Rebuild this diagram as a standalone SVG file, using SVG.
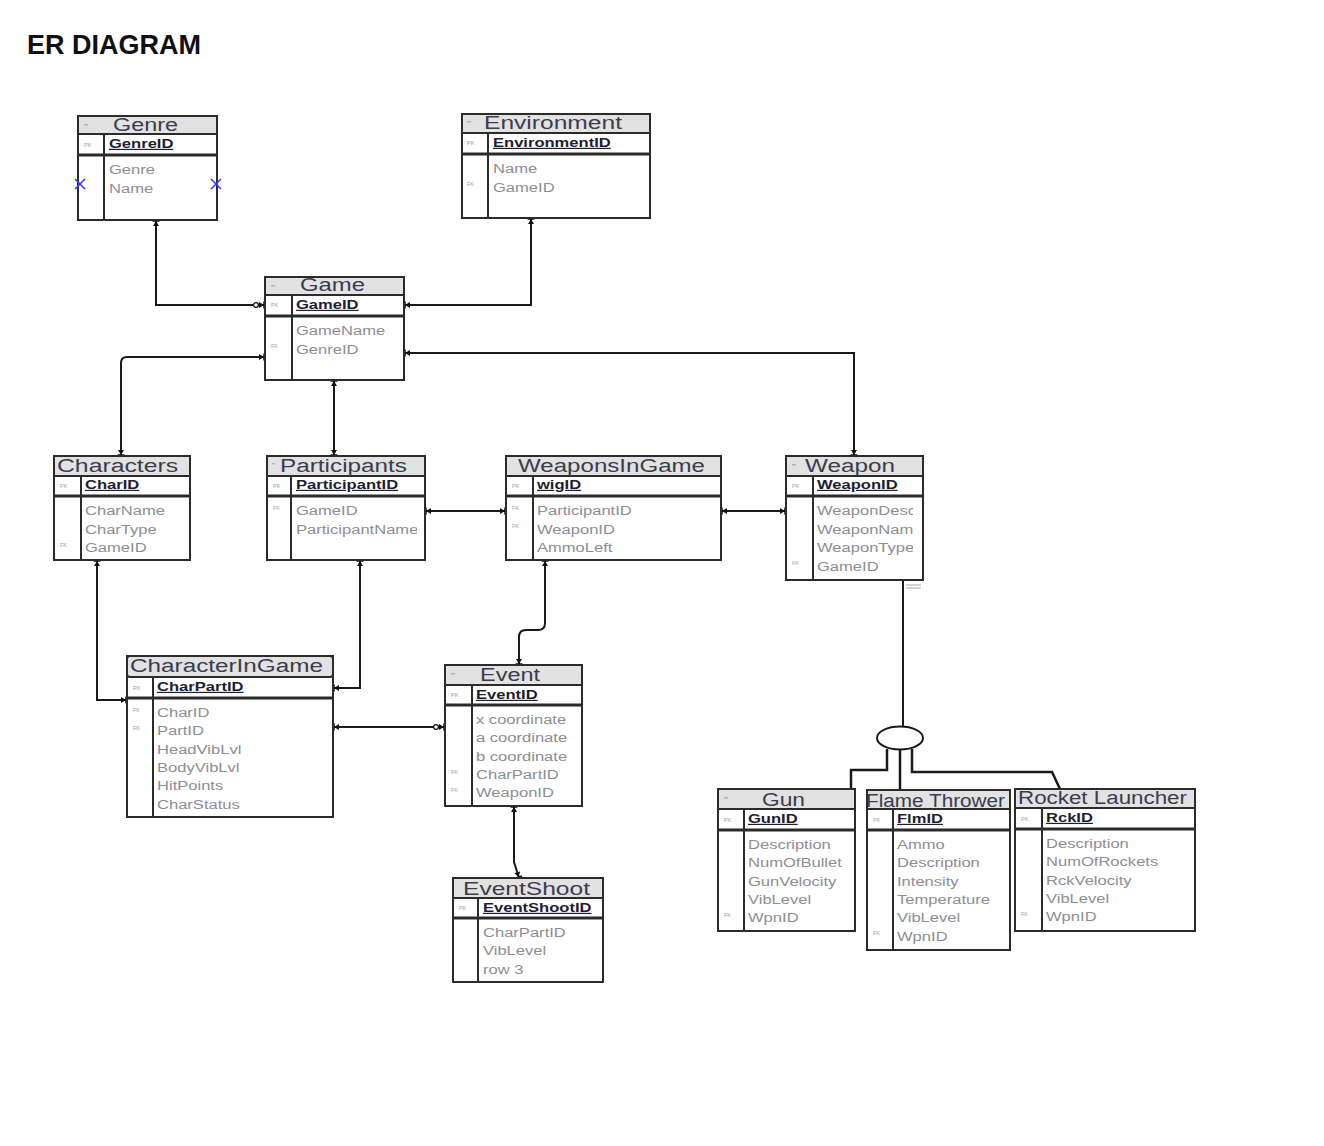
<svg xmlns="http://www.w3.org/2000/svg" width="1324" height="1146" viewBox="0 0 1324 1146">
  <style>
    .box { fill: #ffffff; stroke: #2b2b2b; stroke-width: 2; }
    .hd { fill: #e2e2e2; stroke: #2b2b2b; stroke-width: 2; }
    .ln { stroke: #2b2b2b; stroke-width: 2; }
    .dl { stroke: #2b2b2b; stroke-width: 3; }
    .tk { fill: #b4b4b4; }
    .ht { font-family: "Liberation Sans", Arial, sans-serif; font-size: 18px; fill: #3c3c4e; }
    .pk { font-family: "Liberation Sans", Arial, sans-serif; font-size: 12px; font-weight: bold; fill: #1e1e30; text-decoration: underline; }
    .at { font-family: "Liberation Sans", Arial, sans-serif; font-size: 12px; fill: #8e8e92; }
    .mk { font-family: "Liberation Sans", Arial, sans-serif; font-size: 5.5px; fill: #a0a0a0; }
    .cn { fill: none; stroke: #1a1a1a; stroke-width: 2; }
    .sub { fill: none; stroke: #1a1a1a; stroke-width: 2.5; }
    .xm { stroke: #3a3aff; stroke-width: 1.6; }
    .title { font-family: "Liberation Sans", Arial, sans-serif; font-size: 28px; font-weight: bold; fill: #111111; }
  </style>
  <defs>
    <marker id="tip" markerUnits="userSpaceOnUse" markerWidth="10" markerHeight="10" viewBox="-8 -5 10 10" refX="0" refY="0" orient="auto-start-reverse">
      <path d="M-6,-3 L-1,0 L-6,3 Z" fill="#111"/>
      <path d="M-1,-3.5 V3.5" stroke="#111" stroke-width="1.5"/>
    </marker>
    <marker id="tipo" markerUnits="userSpaceOnUse" markerWidth="16" markerHeight="10" viewBox="-14 -5 16 10" refX="0" refY="0" orient="auto-start-reverse">
      <circle cx="-9" cy="0" r="2.4" fill="#fff" stroke="#111" stroke-width="1.2"/>
      <path d="M-6,-3 L-1,0 L-6,3 Z" fill="#111"/>
      <path d="M-1,-3.5 V3.5" stroke="#111" stroke-width="1.5"/>
    </marker>
    <clipPath id="clipPart"><rect x="291" y="496" width="126" height="64"/></clipPath>
    <clipPath id="clipWpn"><rect x="813" y="496" width="100" height="84"/></clipPath>
    <clipPath id="clipFlame"><rect x="868" y="791" width="141" height="18"/></clipPath>
  </defs>

  <text class="title" x="27" y="54" textLength="174" lengthAdjust="spacingAndGlyphs">ER DIAGRAM</text>

  <!-- relationship lines -->
  <g id="connectors">
    <path class="cn" d="M156,220 V305 H265" marker-start="url(#tip)" marker-end="url(#tipo)"/>
    <path class="cn" d="M531,218 V305 H404" marker-start="url(#tip)" marker-end="url(#tip)"/>
    <path class="cn" d="M265,357 H127 Q121,357 121,363 V456" marker-start="url(#tip)" marker-end="url(#tip)"/>
    <path class="cn" d="M334,380 V456" marker-start="url(#tip)" marker-end="url(#tip)"/>
    <path class="cn" d="M404,353 H854 V456" marker-start="url(#tip)" marker-end="url(#tip)"/>
    <path class="cn" d="M425,511 H506" marker-start="url(#tip)" marker-end="url(#tip)"/>
    <path class="cn" d="M721,511 H786" marker-start="url(#tip)" marker-end="url(#tip)"/>
    <path class="cn" d="M97,560 V700 H127" marker-start="url(#tip)" marker-end="url(#tip)"/>
    <path class="cn" d="M360,560 V688 H333" marker-start="url(#tip)" marker-end="url(#tip)"/>
    <path class="cn" d="M333,727 H445" marker-start="url(#tip)" marker-end="url(#tipo)"/>
    <path class="cn" d="M545,560 V623 Q545,630 538,630 H526 Q519,630 519,637 V665" marker-start="url(#tip)" marker-end="url(#tip)"/>
    <path class="cn" d="M514,806 V862 L519,878" marker-start="url(#tip)" marker-end="url(#tip)"/>
    <!-- weapon specialisation -->
    <path class="cn" d="M903,580 V727"/>
    <path d="M906,585 H921 M906,588 H921" stroke="#aaaaaa" stroke-width="1"/>
    <path class="sub" d="M887,749 V770 H851 V789"/>
    <path class="sub" d="M900,750 V790"/>
    <path class="sub" d="M912,749 V772 H1052 L1060,789"/>
    <ellipse cx="900" cy="738" rx="23" ry="11.5" fill="#ffffff" stroke="#1a1a1a" stroke-width="2"/>
  </g>

  <g id="genre">
    <rect class="box" x="78" y="116" width="139" height="104"/>
    <rect class="hd" x="78" y="116" width="139" height="18"/>
    <line class="dl" x1="78" y1="155" x2="217" y2="155"/>
    <line class="ln" x1="104" y1="134" x2="104" y2="220"/>
    <rect class="tk" x="84" y="124" width="4" height="1.5"/>
    <text class="ht" x="113" y="131" textLength="65" lengthAdjust="spacingAndGlyphs">Genre</text>
    <text class="mk" x="84" y="147">PK</text>
    <text class="pk" transform="matrix(1.38 0 0 1 109 148)">GenreID</text>
    <text class="at" transform="matrix(1.38 0 0 1 109 174)">Genre</text>
    <text class="at" transform="matrix(1.38 0 0 1 109 192.5)">Name</text>
    <path class="xm" d="M75,179 L85,189 M85,179 L75,189"/>
    <path class="xm" d="M211,179 L221,189 M221,179 L211,189"/>
  </g>

  <g id="environment">
    <rect class="box" x="462" y="114" width="188" height="104"/>
    <rect class="hd" x="462" y="114" width="188" height="19"/>
    <line class="dl" x1="462" y1="154" x2="650" y2="154"/>
    <line class="ln" x1="488" y1="133" x2="488" y2="218"/>
    <rect class="tk" x="467" y="121" width="4" height="1.5"/>
    <text class="ht" x="484" y="129" textLength="138" lengthAdjust="spacingAndGlyphs">Environment</text>
    <text class="mk" x="467" y="145">PK</text>
    <text class="pk" transform="matrix(1.38 0 0 1 493 147)">EnvironmentID</text>
    <text class="at" transform="matrix(1.38 0 0 1 493 173)">Name</text>
    <text class="mk" x="467" y="186">FK</text>
    <text class="at" transform="matrix(1.38 0 0 1 493 191.5)">GameID</text>
  </g>

  <g id="game">
    <rect class="box" x="265" y="277" width="139" height="103"/>
    <rect class="hd" x="265" y="277" width="139" height="18"/>
    <line class="dl" x1="265" y1="316" x2="404" y2="316"/>
    <line class="ln" x1="292" y1="295" x2="292" y2="380"/>
    <rect class="tk" x="271" y="285" width="4" height="1.5"/>
    <text class="ht" x="300" y="291" textLength="65" lengthAdjust="spacingAndGlyphs">Game</text>
    <text class="mk" x="271" y="307">PK</text>
    <text class="pk" transform="matrix(1.38 0 0 1 296 309)">GameID</text>
    <text class="at" transform="matrix(1.38 0 0 1 296 335)">GameName</text>
    <text class="mk" x="271" y="348">FK</text>
    <text class="at" transform="matrix(1.38 0 0 1 296 353.5)">GenreID</text>
  </g>

  <g id="characters">
    <rect class="box" x="54" y="456" width="136" height="104"/>
    <rect class="hd" x="54" y="456" width="136" height="20"/>
    <line class="dl" x1="54" y1="496" x2="190" y2="496"/>
    <line class="ln" x1="81" y1="476" x2="81" y2="560"/>
    <text class="ht" x="57" y="472" textLength="121" lengthAdjust="spacingAndGlyphs">Characters</text>
    <text class="mk" x="60" y="488">PK</text>
    <text class="pk" transform="matrix(1.38 0 0 1 85 489)">CharID</text>
    <text class="at" transform="matrix(1.38 0 0 1 85 515)">CharName</text>
    <text class="at" transform="matrix(1.38 0 0 1 85 533.5)">CharType</text>
    <text class="mk" x="60" y="547">FK</text>
    <text class="at" transform="matrix(1.38 0 0 1 85 552)">GameID</text>
  </g>

  <g id="participants">
    <rect class="box" x="267" y="456" width="158" height="104"/>
    <rect class="hd" x="267" y="456" width="158" height="20"/>
    <line class="dl" x1="267" y1="496" x2="425" y2="496"/>
    <line class="ln" x1="291" y1="476" x2="291" y2="560"/>
    <rect class="tk" x="272" y="463" width="3" height="1.5"/>
    <text class="ht" x="280" y="472" textLength="127" lengthAdjust="spacingAndGlyphs">Participants</text>
    <text class="mk" x="273" y="488">PK</text>
    <text class="pk" transform="matrix(1.38 0 0 1 296 489)">ParticipantID</text>
    <text class="mk" x="273" y="510">FK</text>
    <g clip-path="url(#clipPart)">
      <text class="at" transform="matrix(1.38 0 0 1 296 515)">GameID</text>
      <text class="at" transform="matrix(1.38 0 0 1 296 533.5)">ParticipantName</text>
    </g>
  </g>

  <g id="weaponsingame">
    <rect class="box" x="506" y="456" width="215" height="104"/>
    <rect class="hd" x="506" y="456" width="215" height="20"/>
    <line class="dl" x1="506" y1="496" x2="721" y2="496"/>
    <line class="ln" x1="533" y1="476" x2="533" y2="560"/>
    <text class="ht" x="518" y="472" textLength="187" lengthAdjust="spacingAndGlyphs">WeaponsInGame</text>
    <text class="mk" x="512" y="488">PK</text>
    <text class="pk" transform="matrix(1.38 0 0 1 537 489)">wigID</text>
    <text class="mk" x="512" y="510">FK</text>
    <text class="at" transform="matrix(1.38 0 0 1 537 515)">ParticipantID</text>
    <text class="mk" x="512" y="528">FK</text>
    <text class="at" transform="matrix(1.38 0 0 1 537 533.5)">WeaponID</text>
    <text class="at" transform="matrix(1.38 0 0 1 537 552)">AmmoLeft</text>
  </g>

  <g id="weapon">
    <rect class="box" x="786" y="456" width="137" height="124"/>
    <rect class="hd" x="786" y="456" width="137" height="20"/>
    <line class="dl" x1="786" y1="496" x2="923" y2="496"/>
    <line class="ln" x1="813" y1="476" x2="813" y2="580"/>
    <rect class="tk" x="792" y="464" width="4" height="1.5"/>
    <text class="ht" x="805" y="472" textLength="90" lengthAdjust="spacingAndGlyphs">Weapon</text>
    <text class="mk" x="792" y="488">PK</text>
    <text class="pk" transform="matrix(1.38 0 0 1 817 489)">WeaponID</text>
    <text class="mk" x="792" y="565">FK</text>
    <g clip-path="url(#clipWpn)">
      <text class="at" transform="matrix(1.38 0 0 1 817 515)">WeaponDesc</text>
      <text class="at" transform="matrix(1.38 0 0 1 817 533.5)">WeaponName</text>
      <text class="at" transform="matrix(1.38 0 0 1 817 552)">WeaponType</text>
      <text class="at" transform="matrix(1.38 0 0 1 817 570.5)">GameID</text>
    </g>
  </g>

  <g id="characteringame">
    <rect class="box" x="127" y="656" width="206" height="161"/>
    <rect class="hd" x="127" y="656" width="206" height="21" rx="3"/>
    <line class="dl" x1="127" y1="698" x2="333" y2="698"/>
    <line class="ln" x1="153" y1="677" x2="153" y2="817"/>
    <text class="ht" x="130" y="672" textLength="193" lengthAdjust="spacingAndGlyphs">CharacterInGame</text>
    <text class="mk" x="133" y="690">PK</text>
    <text class="pk" transform="matrix(1.38 0 0 1 157 691)">CharPartID</text>
    <text class="mk" x="133" y="712">FK</text>
    <text class="at" transform="matrix(1.38 0 0 1 157 717)">CharID</text>
    <text class="mk" x="133" y="730">FK</text>
    <text class="at" transform="matrix(1.38 0 0 1 157 735.3)">PartID</text>
    <text class="at" transform="matrix(1.38 0 0 1 157 753.6)">HeadVibLvl</text>
    <text class="at" transform="matrix(1.38 0 0 1 157 771.9)">BodyVibLvl</text>
    <text class="at" transform="matrix(1.38 0 0 1 157 790.2)">HitPoints</text>
    <text class="at" transform="matrix(1.38 0 0 1 157 808.5)">CharStatus</text>
  </g>

  <g id="event">
    <rect class="box" x="445" y="665" width="137" height="141"/>
    <rect class="hd" x="445" y="665" width="137" height="20"/>
    <line class="dl" x1="445" y1="705" x2="582" y2="705"/>
    <line class="ln" x1="472" y1="685" x2="472" y2="806"/>
    <rect class="tk" x="451" y="673" width="4" height="1.5"/>
    <text class="ht" x="480" y="681" textLength="60" lengthAdjust="spacingAndGlyphs">Event</text>
    <text class="mk" x="451" y="697">PK</text>
    <text class="pk" transform="matrix(1.38 0 0 1 476 699)">EventID</text>
    <text class="at" transform="matrix(1.38 0 0 1 476 724)">x coordinate</text>
    <text class="at" transform="matrix(1.38 0 0 1 476 742.3)">a coordinate</text>
    <text class="at" transform="matrix(1.38 0 0 1 476 760.6)">b coordinate</text>
    <text class="mk" x="451" y="774">FK</text>
    <text class="at" transform="matrix(1.38 0 0 1 476 778.9)">CharPartID</text>
    <text class="mk" x="451" y="792">FK</text>
    <text class="at" transform="matrix(1.38 0 0 1 476 797.2)">WeaponID</text>
  </g>

  <g id="eventshoot">
    <rect class="box" x="453" y="878" width="150" height="104"/>
    <rect class="hd" x="453" y="878" width="150" height="20"/>
    <line class="dl" x1="453" y1="918" x2="603" y2="918"/>
    <line class="ln" x1="478" y1="898" x2="478" y2="982"/>
    <text class="ht" x="463" y="895" textLength="127" lengthAdjust="spacingAndGlyphs">EventShoot</text>
    <text class="mk" x="459" y="910">PK</text>
    <text class="pk" transform="matrix(1.38 0 0 1 483 912)">EventShootID</text>
    <text class="at" transform="matrix(1.38 0 0 1 483 937)">CharPartID</text>
    <text class="at" transform="matrix(1.38 0 0 1 483 955.3)">VibLevel</text>
    <text class="at" transform="matrix(1.38 0 0 1 483 973.6)">row 3</text>
  </g>

  <g id="gun">
    <rect class="box" x="718" y="789" width="137" height="142"/>
    <rect class="hd" x="718" y="789" width="137" height="20"/>
    <line class="dl" x1="718" y1="830" x2="855" y2="830"/>
    <line class="ln" x1="744" y1="809" x2="744" y2="931"/>
    <rect class="tk" x="724" y="797" width="4" height="1.5"/>
    <text class="ht" x="762" y="806" textLength="43" lengthAdjust="spacingAndGlyphs">Gun</text>
    <text class="mk" x="724" y="822">PK</text>
    <text class="pk" transform="matrix(1.38 0 0 1 748 823)">GunID</text>
    <text class="at" transform="matrix(1.38 0 0 1 748 849)">Description</text>
    <text class="at" transform="matrix(1.38 0 0 1 748 867.3)">NumOfBullet</text>
    <text class="at" transform="matrix(1.38 0 0 1 748 885.6)">GunVelocity</text>
    <text class="at" transform="matrix(1.38 0 0 1 748 903.9)">VibLevel</text>
    <text class="mk" x="724" y="917">FK</text>
    <text class="at" transform="matrix(1.38 0 0 1 748 922.2)">WpnID</text>
  </g>

  <g id="flamethrower">
    <rect class="box" x="867" y="790" width="143" height="160"/>
    <rect class="hd" x="867" y="790" width="143" height="19"/>
    <line class="dl" x1="867" y1="830" x2="1010" y2="830"/>
    <line class="ln" x1="893" y1="809" x2="893" y2="950"/>
    <g clip-path="url(#clipFlame)">
      <text class="ht" x="866" y="807" textLength="139" lengthAdjust="spacingAndGlyphs">Flame Thrower</text>
    </g>
    <text class="mk" x="873" y="822">PK</text>
    <text class="pk" transform="matrix(1.38 0 0 1 897 823)">FlmID</text>
    <text class="at" transform="matrix(1.38 0 0 1 897 849)">Ammo</text>
    <text class="at" transform="matrix(1.38 0 0 1 897 867.3)">Description</text>
    <text class="at" transform="matrix(1.38 0 0 1 897 885.6)">Intensity</text>
    <text class="at" transform="matrix(1.38 0 0 1 897 903.9)">Temperature</text>
    <text class="at" transform="matrix(1.38 0 0 1 897 922.2)">VibLevel</text>
    <text class="mk" x="873" y="935">FK</text>
    <text class="at" transform="matrix(1.38 0 0 1 897 940.5)">WpnID</text>
  </g>

  <g id="rocketlauncher">
    <rect class="box" x="1015" y="789" width="180" height="142"/>
    <rect class="hd" x="1015" y="789" width="180" height="19"/>
    <line class="dl" x1="1015" y1="829" x2="1195" y2="829"/>
    <line class="ln" x1="1042" y1="808" x2="1042" y2="931"/>
    <text class="ht" x="1018" y="804" textLength="169" lengthAdjust="spacingAndGlyphs">Rocket  Launcher</text>
    <text class="mk" x="1021" y="821">PK</text>
    <text class="pk" transform="matrix(1.38 0 0 1 1046 822)">RckID</text>
    <text class="at" transform="matrix(1.38 0 0 1 1046 848)">Description</text>
    <text class="at" transform="matrix(1.38 0 0 1 1046 866.3)">NumOfRockets</text>
    <text class="at" transform="matrix(1.38 0 0 1 1046 884.6)">RckVelocity</text>
    <text class="at" transform="matrix(1.38 0 0 1 1046 902.9)">VibLevel</text>
    <text class="mk" x="1021" y="916">FK</text>
    <text class="at" transform="matrix(1.38 0 0 1 1046 921.2)">WpnID</text>
  </g>
</svg>
